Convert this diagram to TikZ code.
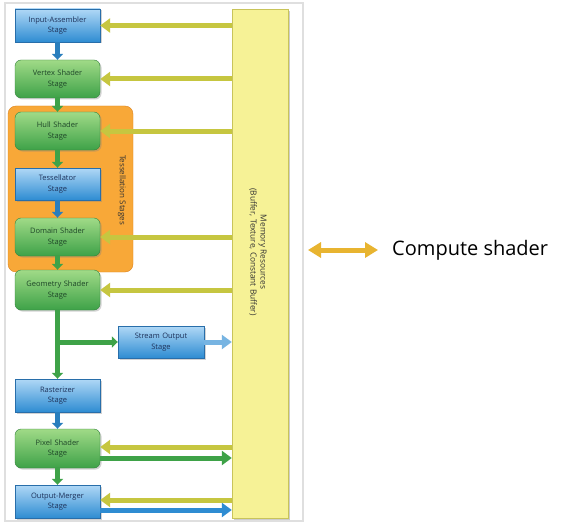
\documentclass[tikz,border=0pt]{standalone}
\usepackage{fontspec}
\setmainfont{Open Sans}
\usetikzlibrary{arrows.meta, shadows}

\definecolor{blueTop}{RGB}{176,216,246}
\definecolor{blueBot}{RGB}{46,140,210}
\definecolor{blueEdge}{RGB}{40,110,170}
\definecolor{greenTop}{RGB}{160,218,135}
\definecolor{greenBot}{RGB}{62,162,72}
\definecolor{greenEdge}{RGB}{50,130,60}
\definecolor{memFill}{RGB}{246,242,150}
\definecolor{memEdge}{RGB}{200,196,90}
\definecolor{memArrow}{RGB}{198,198,64}
\definecolor{tessFill}{RGB}{248,168,56}
\definecolor{tessEdge}{RGB}{220,130,30}
\definecolor{computeArrow}{RGB}{232,180,48}
\definecolor{blueText}{RGB}{30,50,90}
\definecolor{greenText}{RGB}{30,70,40}

\begin{document}
\begin{tikzpicture}[x=1pt, y=-1pt, >=stealth,
    stage/.style={minimum width=85pt, text width=82pt, align=center, inner sep=1pt,
        font=\fontsize{7.5}{10.5}\selectfont,
        drop shadow={shadow xshift=1.5pt, shadow yshift=-1.5pt, opacity=0.35}},
    bluestage/.style={stage, text=blueText, draw=blueEdge, line width=0.4pt, top color=blueTop, bottom color=blueBot, minimum height=33pt},
    greenstage/.style={stage, text=greenText, draw=greenEdge, line width=0.4pt, rounded corners=6pt, top color=greenTop, bottom color=greenBot, minimum height=38pt},
    bluedown/.style={blueBot!90!black, line width=5pt, -{Triangle[width=11pt, length=6pt]}},
    greendown/.style={greenBot, line width=5pt, -{Triangle[width=11pt, length=6pt]}},
    memarrow/.style={memArrow, line width=5pt, -{Triangle[width=14pt, length=10pt]}},
    greenout/.style={greenBot, line width=5pt, -{Triangle[width=14pt, length=10pt]}},
    blueout/.style={blueBot, line width=5pt, -{Triangle[width=14pt, length=10pt]}}]
    \useasboundingbox (0,0) rectangle (567,524);
    \fill[white] (0,0) rectangle (567,524);

    % frame round the pipeline
    \draw[gray!25, line width=1.5pt] (5,3) rectangle (303,521);

    % memory resources
    \node[draw=memEdge, fill=memFill, minimum width=56pt, minimum height=509pt, inner sep=0pt,
        drop shadow={shadow xshift=2pt, shadow yshift=-2pt, opacity=0.4}] (mem) at (260,263.5) {};
    \node[rotate=-90, align=center, font=\fontsize{8.3}{10}\selectfont, text=black!80] (memlabel) at (258,252)
        {Memory Resources\\(Buffer, Texture, Constant Buffer)};

    % tessellation group
    \filldraw[fill=tessFill, draw=tessEdge, rounded corners=8pt] (8,106) rectangle (133,272);
    \node[rotate=-90, font=\fontsize{8}{9}\selectfont, text=black!80] (tesslabel) at (122,190) {Tessellation Stages};

    % stages
    \node[bluestage] (ia) at (57.5,25.5) {Input-Assembler\\Stage};
    \node[greenstage] (vs) at (57.5,79) {Vertex Shader\\Stage};
    \node[greenstage] (hs) at (57.5,131) {Hull Shader\\Stage};
    \node[bluestage, minimum height=32pt] (ts) at (57.5,184) {Tessellator\\Stage};
    \node[greenstage] (ds) at (57.5,237) {Domain Shader\\Stage};
    \node[greenstage, minimum height=40pt] (gs) at (57.5,290) {Geometry Shader\\Stage};
    \node[bluestage, minimum height=32pt, minimum width=86pt] (so) at (161,342) {Stream Output\\Stage};
    \node[bluestage] (rs) at (57.5,395.5) {Rasterizer\\Stage};
    \node[greenstage, minimum height=39pt] (ps) at (57.5,448.5) {Pixel Shader\\Stage};
    \node[bluestage] (om) at (57.5,501.5) {Output-Merger\\Stage};

    % pipeline flow
    \draw[bluedown] (ia) -- (vs);
    \draw[greendown] (vs) -- (hs);
    \draw[greendown] (hs) -- (ts);
    \draw[bluedown] (ts) -- (ds);
    \draw[greendown] (ds) -- (gs);
    \draw[greendown] (gs) -- (rs);
    \coordinate (branch) at (gs.south |- so.west);
    \draw[greendown] (branch) -- (so.west);
    \draw[bluedown] (rs) -- (ps);
    \draw[greendown] (ps) -- (om);
    \draw[blueout, blueBot!65!white] (so.east) -- (so.east -| mem.west);

    % memory access
    \foreach \s in {ia, vs, hs, ds, gs}
        \draw[memarrow] (\s.east -| mem.west) -- (\s.east);
    \draw[memarrow] ([yshift=1.5pt]ps.east -| mem.west) -- ([yshift=1.5pt]ps.east);
    \draw[greenout] ([yshift=-9.5pt]ps.east) -- ([yshift=-9.5pt]ps.east -| mem.west);
    \draw[memarrow] ([yshift=1.5pt]om.east -| mem.west) -- ([yshift=1.5pt]om.east);
    \draw[blueout] ([yshift=-8.5pt]om.east) -- ([yshift=-8.5pt]om.east -| mem.west);

    % compute shader
    \node[font=\fontsize{20}{24}\selectfont, anchor=west, inner sep=0pt] (cs) at (392,250) {Compute shader};
    \coordinate (csleft) at (308,250);
    \draw[computeArrow, line width=5pt, {Triangle[width=15pt, length=13pt]}-{Triangle[width=15pt, length=13pt]}] (csleft) -- ([xshift=-14pt]cs.west);
\end{tikzpicture}
\end{document}
